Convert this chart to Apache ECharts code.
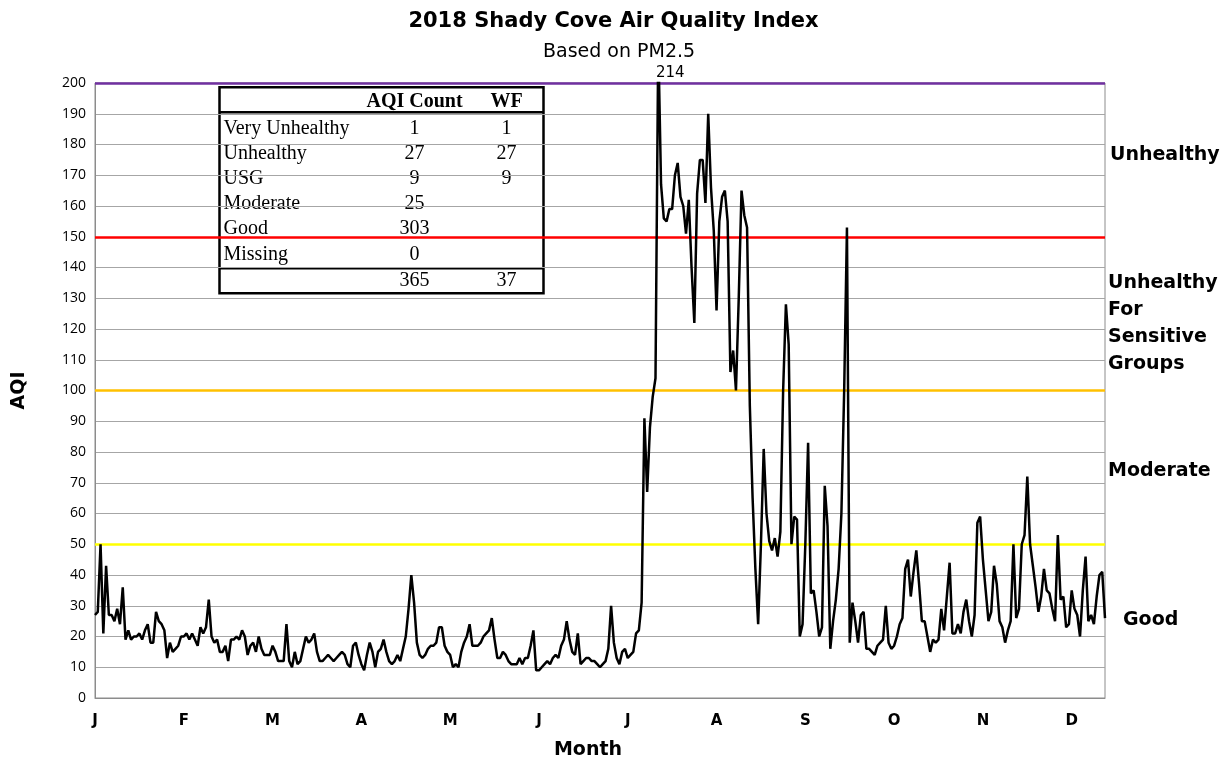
<!DOCTYPE html>
<html>
<head>
<meta charset="utf-8">
<script src="https://cdn.jsdelivr.net/npm/echarts@6/dist/echarts.min.js"></script>
<style>
  html, body { margin: 0; padding: 0; background: #fff; }
  #chart { width: 1227px; height: 761px; }
</style>
</head>
<body>
<div id="chart"></div>
<script>
// daily AQI
const jan = [27,28,50,21,43,27,27,25,29,24, 36,19,22,19,20,20,21,19,22,24, 18,18,28,25,24,22,13,18,15,16, 17];
const feb = [20,20,21,19,21,19,17,23,21, 23,32,20,18,19,15,15,17,12,19, 19,20,19,22,20,14,17,18,15];
const mar = [20, 16,14,14,14,17,15,12,12,12,24, 12,10,15,11,12,16,20,18,19,21, 15,12,12,13,14,13,12,13,14,15];
const apr = [14,11,10,17,18,14,11,9,14,18, 15,10,15,16,19,15,12,11,12,14, 12,16,20,29,40,31,18,14,13,14];
const may = [16,17,17,18,23,23,17,15,14,10, 11,10,15,18,20,24,17,17,17,18, 20,21,22,26,19,13,13,15,14,12, 11];
const jun = [11,11,13,11,13,13,17,22,9, 9,10,11,12,11,13,14,13,17,19, 25,19,15,14,21,11,12,13,13,12, 12];
const jul = [11,10,11,12,16,30,18,13,11, 15,16,13,14,15,21,22,31,91,67, 88,98,104,214,167,156,155,159,159,170, 174,163];
const aug = [160,151,162,140,122,164,175,175, 161,190,166,152,126,155,163,165,155,106, 113,100,130,165,157,153,95,65,42,24, 50,81,60];
const sep = [51,48,52,46,54,100,128, 115,50,59,58,20,24,50,83,34,35, 28,20,23,69,56,16,25,32,42,60, 100,153,18];
const oct = [31,25,18,27,28,16,16, 15,14,17,18,19,30,18,16,17,20, 24,26,42,45,33,41,48,37,25,25, 20,15,19,18];
const nov = [19,29,22,33,44,21, 21,24,21,28,32,25,20,27,57,59, 45,35,25,28,43,37,25,23,18,22, 25,50,26,29];
const dec = [50,53,72,50,43,36, 28,33,42,35,34,29,25,53,32,33, 23,24,35,29,27,20,35,46,25,27, 24,33,40,41,26];

const tickLabels = ['J','F','M','A','M','J','J','A','S','O','N','D'];

// AQI bands: value of the coloured line and its colour
const bandLevels = [50, 100, 150, 200];
const bandColors = ['#ffff00', '#ffc000', '#ff0000', '#7030a0'];

// table in the upper left
const tableRows = ['Very Unhealthy', 'Unhealthy', 'USG', 'Moderate', 'Good', 'Missing'];
const aqiCounts = [1, 27, 9, 25, 303, 0];
const wfCounts = [1, 27, 9, null, null, null];

const aqi = [].concat(jan, feb, mar, apr, may, jun, jul, aug, sep, oct, nov, dec);
const days = aqi.map((v, i) => i + 1);
const peakIdx = aqi.indexOf(Math.max.apply(null, aqi));

const chart = echarts.init(document.getElementById('chart'));

const sans = '"DejaVu Sans", sans-serif';
const numFont = '"Open Sans", sans-serif';
const serif = '"Liberation Serif", serif';

// table graphic
const tableLeft = 217, tableTop = 86, tableW = 324, tableH = 206;
const colCount = 195, colWF = 287;
const cell = (text, x, y, align, bold) => ({
  type: 'text',
  style: { text: text, x: x, y: y, align: align, verticalAlign: 'middle',
    font: (bold ? 'bold ' : '') + '20px ' + serif, fill: '#000' }
});
const tableKids = [
  { type: 'rect', shape: { x: 0, y: 0, width: tableW, height: tableH },
    style: { fill: '#fff', stroke: '#000', lineWidth: 2.5 } },
  { type: 'line', shape: { x1: 0, y1: 25, x2: tableW, y2: 25 },
    style: { stroke: '#000', lineWidth: 2.5 } },
  { type: 'line', shape: { x1: 0, y1: 181, x2: tableW, y2: 181 },
    style: { stroke: '#000', lineWidth: 2.5 } },
  cell('AQI Count', colCount, 15, 'center', true),
  cell('WF', colWF, 15, 'center', true)
];
tableRows.forEach((name, i) => {
  const y = 41 + i * 25.2;
  tableKids.push(cell(name, 4, y, 'left'));
  tableKids.push(cell(String(aqiCounts[i]), colCount, y, 'center'));
  if (wfCounts[i] != null) tableKids.push(cell(String(wfCounts[i]), colWF, y, 'center'));
});
const sum = arr => arr.reduce((a, b) => a + (b || 0), 0);
tableKids.push(cell(String(sum(aqiCounts)), colCount, 193, 'center'));
tableKids.push(cell(String(sum(wfCounts)), colWF, 193, 'center'));

// band names on the right
const sideLabels = [
  { text: 'Unhealthy', x: 1110, y: 155 },
  { text: 'Unhealthy\nFor\nSensitive\nGroups', x: 1108, y: 324 },
  { text: 'Moderate', x: 1108, y: 471 },
  { text: 'Good', x: 1123, y: 620 }
].map(l => ({
  type: 'text', x: l.x, y: l.y, z: 10,
  style: { text: l.text, font: 'bold 19px ' + sans, fill: '#000', lineHeight: 27,
    align: 'left', verticalAlign: 'middle' }
}));

const option = {
  animation: false,
  backgroundColor: '#fff',
  title: [
    { text: '2018 Shady Cove Air Quality Index', left: 'center', top: 6,
      textStyle: { fontFamily: sans, fontSize: 21, fontWeight: 'bold', color: '#000' } },
    { text: 'Based on PM2.5', left: 538, top: 38,
      textStyle: { fontFamily: sans, fontSize: 19, fontWeight: 'normal', color: '#000' } }
  ],
  grid: { left: 95, right: 122, top: 83, bottom: 63, show: true, borderColor: '#8c8c8c', borderWidth: 1,
    outerBoundsMode: 'none' },
  xAxis: {
    type: 'category',
    data: days,
    boundaryGap: false,
    axisLine: { lineStyle: { color: '#8c8c8c' } },
    axisTick: { show: false },
    splitLine: { show: false },
    axisLabel: {
      interval: 31,
      formatter: (v, i) => tickLabels[Math.floor(i / 32)] || '',
      fontFamily: sans, fontSize: 15, fontWeight: 'bold', color: '#000', margin: 16
    },
    name: 'Month', nameLocation: 'middle', nameGap: 43,
    nameTextStyle: { fontFamily: sans, fontSize: 19, fontWeight: 'bold', color: '#000', padding: [0, 24, 0, 0] }
  },
  yAxis: {
    type: 'value', min: 0, max: 200, interval: 10,
    axisLine: { show: true, lineStyle: { color: '#8c8c8c' } },
    axisTick: { show: false },
    splitLine: { lineStyle: { color: '#a6a6a6', width: 1 } },
    axisLabel: { fontFamily: numFont, fontSize: 14, color: '#000', margin: 9 },
    name: 'AQI', nameLocation: 'middle', nameGap: 66, nameRotate: 90,
    nameTextStyle: { fontFamily: sans, fontSize: 19, fontWeight: 'bold', color: '#000' }
  },
  series: [
    {
      type: 'line', data: [], z: 2, silent: true,
      markLine: {
        silent: true, symbol: 'none', animation: false,
        label: { show: false },
        data: bandLevels.map((v, i) => ({ yAxis: v, lineStyle: { color: bandColors[i], width: 2.5, type: 'solid' } }))
      }
    },
    {
      type: 'line', data: aqi, z: 5, symbol: 'none',
      lineStyle: { color: '#000', width: 2.5 },
      markPoint: {
        symbol: 'circle', symbolSize: 0,
        data: [{ coord: [peakIdx, 200], value: aqi[peakIdx] }],
        label: { show: true, position: 'top', offset: [12, 3], formatter: '{c}',
          fontFamily: sans, fontSize: 15, color: '#000' }
      }
    }
  ],
  graphic: [
    { type: 'group', left: tableLeft, top: tableTop, z: 20, children: tableKids }
  ].concat(sideLabels)
};

chart.setOption(option);
</script>
</body>
</html>
